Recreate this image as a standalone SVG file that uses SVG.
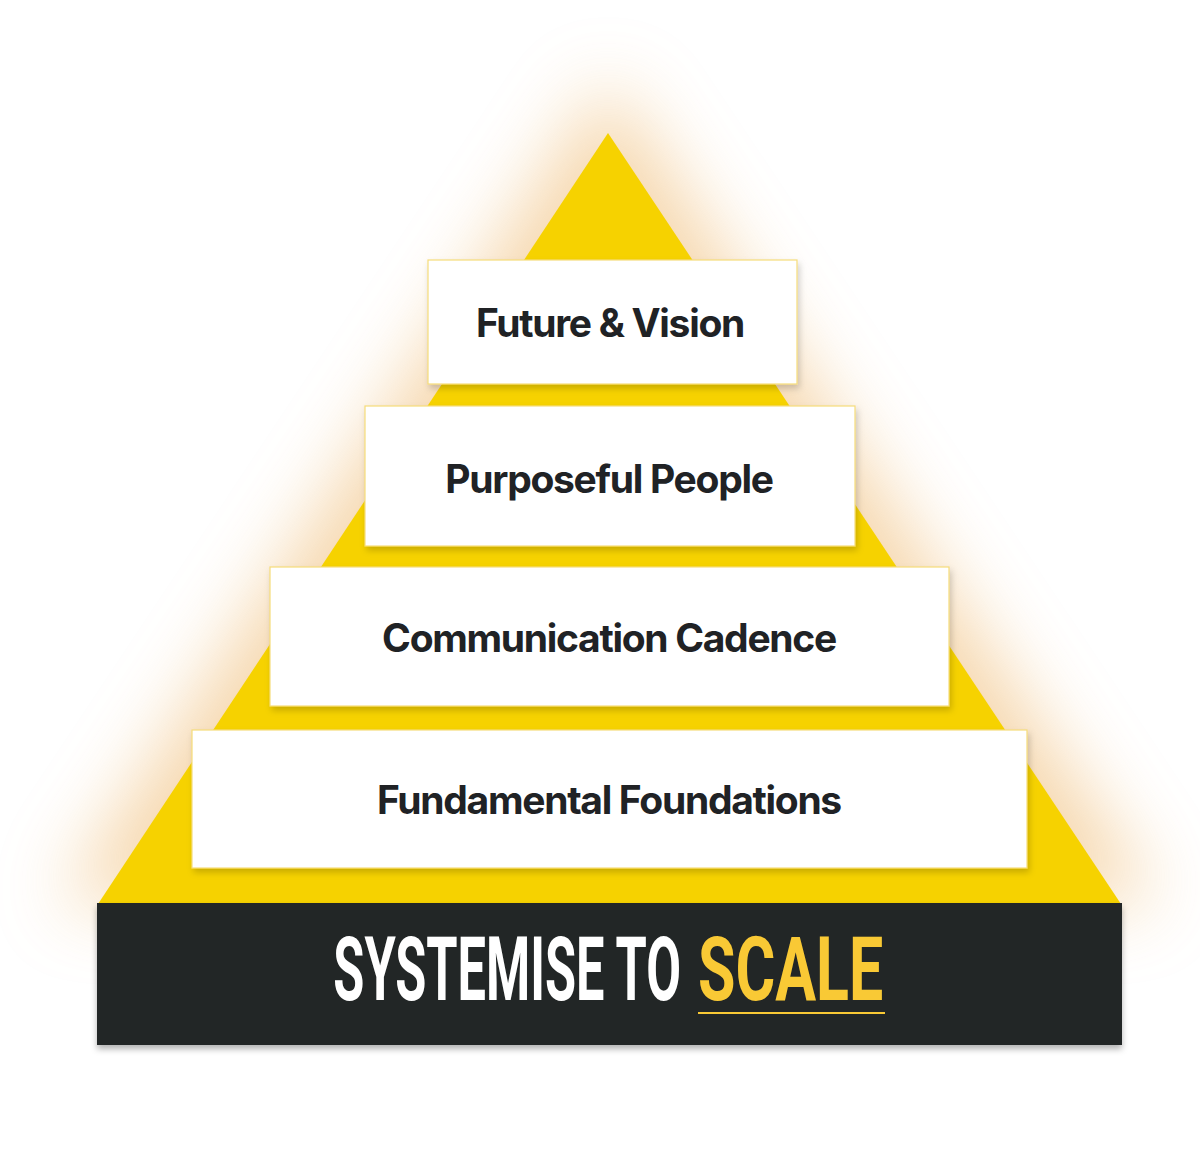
<svg xmlns="http://www.w3.org/2000/svg" width="1200" height="1164" viewBox="0 0 1200 1164">
  <defs>
    <filter id="glow" x="-40%" y="-40%" width="180%" height="180%">
      <feGaussianBlur stdDeviation="38"/>
    </filter>
    <filter id="boxShadow" x="-10%" y="-20%" width="120%" height="150%">
      <feDropShadow dx="2" dy="4" stdDeviation="3" flood-color="#000" flood-opacity="0.18"/>
    </filter>
    <filter id="bannerShadow" x="-5%" y="-10%" width="110%" height="130%">
      <feDropShadow dx="0" dy="4" stdDeviation="3" flood-color="#000" flood-opacity="0.3"/>
    </filter>
  </defs>
  <style>
    .box { fill: #ffffff; stroke: #F6DC7A; stroke-width: 1.2; }
    .label { font-family: Inter, "Noto Sans", "Liberation Sans", sans-serif; font-weight: 700; font-size: 39px; fill: #202225; text-anchor: middle; letter-spacing: -1.3px; }
    .banner { font-family: Roboto, "Liberation Sans", sans-serif; font-weight: 700; font-size: 89px; }
  </style>
  <rect width="1200" height="1164" fill="#ffffff"/>

  <g id="glow-layer">
    <polygon points="608,80 60,903 1158,903" fill="#F2C68A" opacity="0.7" filter="url(#glow)"/>
  </g>

  <g id="pyramid">
    <polygon points="608,133 98,904 1121,904" fill="#F6D200"/>
  </g>

  <g id="banner" filter="url(#bannerShadow)">
    <rect x="97" y="903" width="1025" height="142" fill="#222527"/>
  </g>
  <g id="banner-text">
    <text class="banner" transform="translate(681,1000) scale(0.57,1)" text-anchor="end" fill="#ffffff" textLength="610" lengthAdjust="spacingAndGlyphs">SYSTEMISE TO</text>
    <text class="banner" transform="translate(698,1000) scale(0.57,1)" text-anchor="start" fill="#F9C935" textLength="325" lengthAdjust="spacingAndGlyphs">SCALE</text>
    <rect x="698" y="1012" width="187" height="2" fill="#F9C935"/>
  </g>

  <g id="node-future-vision">
    <rect class="box" x="428" y="260" width="369" height="124" filter="url(#boxShadow)"/>
    <text class="label" x="610" y="337">Future &amp; Vision</text>
  </g>
  <g id="node-purposeful-people">
    <rect class="box" x="365" y="406" width="490" height="140" filter="url(#boxShadow)"/>
    <text class="label" x="609" y="493">Purposeful People</text>
  </g>
  <g id="node-communication-cadence">
    <rect class="box" x="270" y="567" width="679" height="139" filter="url(#boxShadow)"/>
    <text class="label" x="609" y="652">Communication Cadence</text>
  </g>
  <g id="node-fundamental-foundations">
    <rect class="box" x="192" y="730" width="835" height="138" filter="url(#boxShadow)"/>
    <text class="label" x="609" y="814">Fundamental Foundations</text>
  </g>

  <g id="connectors"></g>
</svg>
